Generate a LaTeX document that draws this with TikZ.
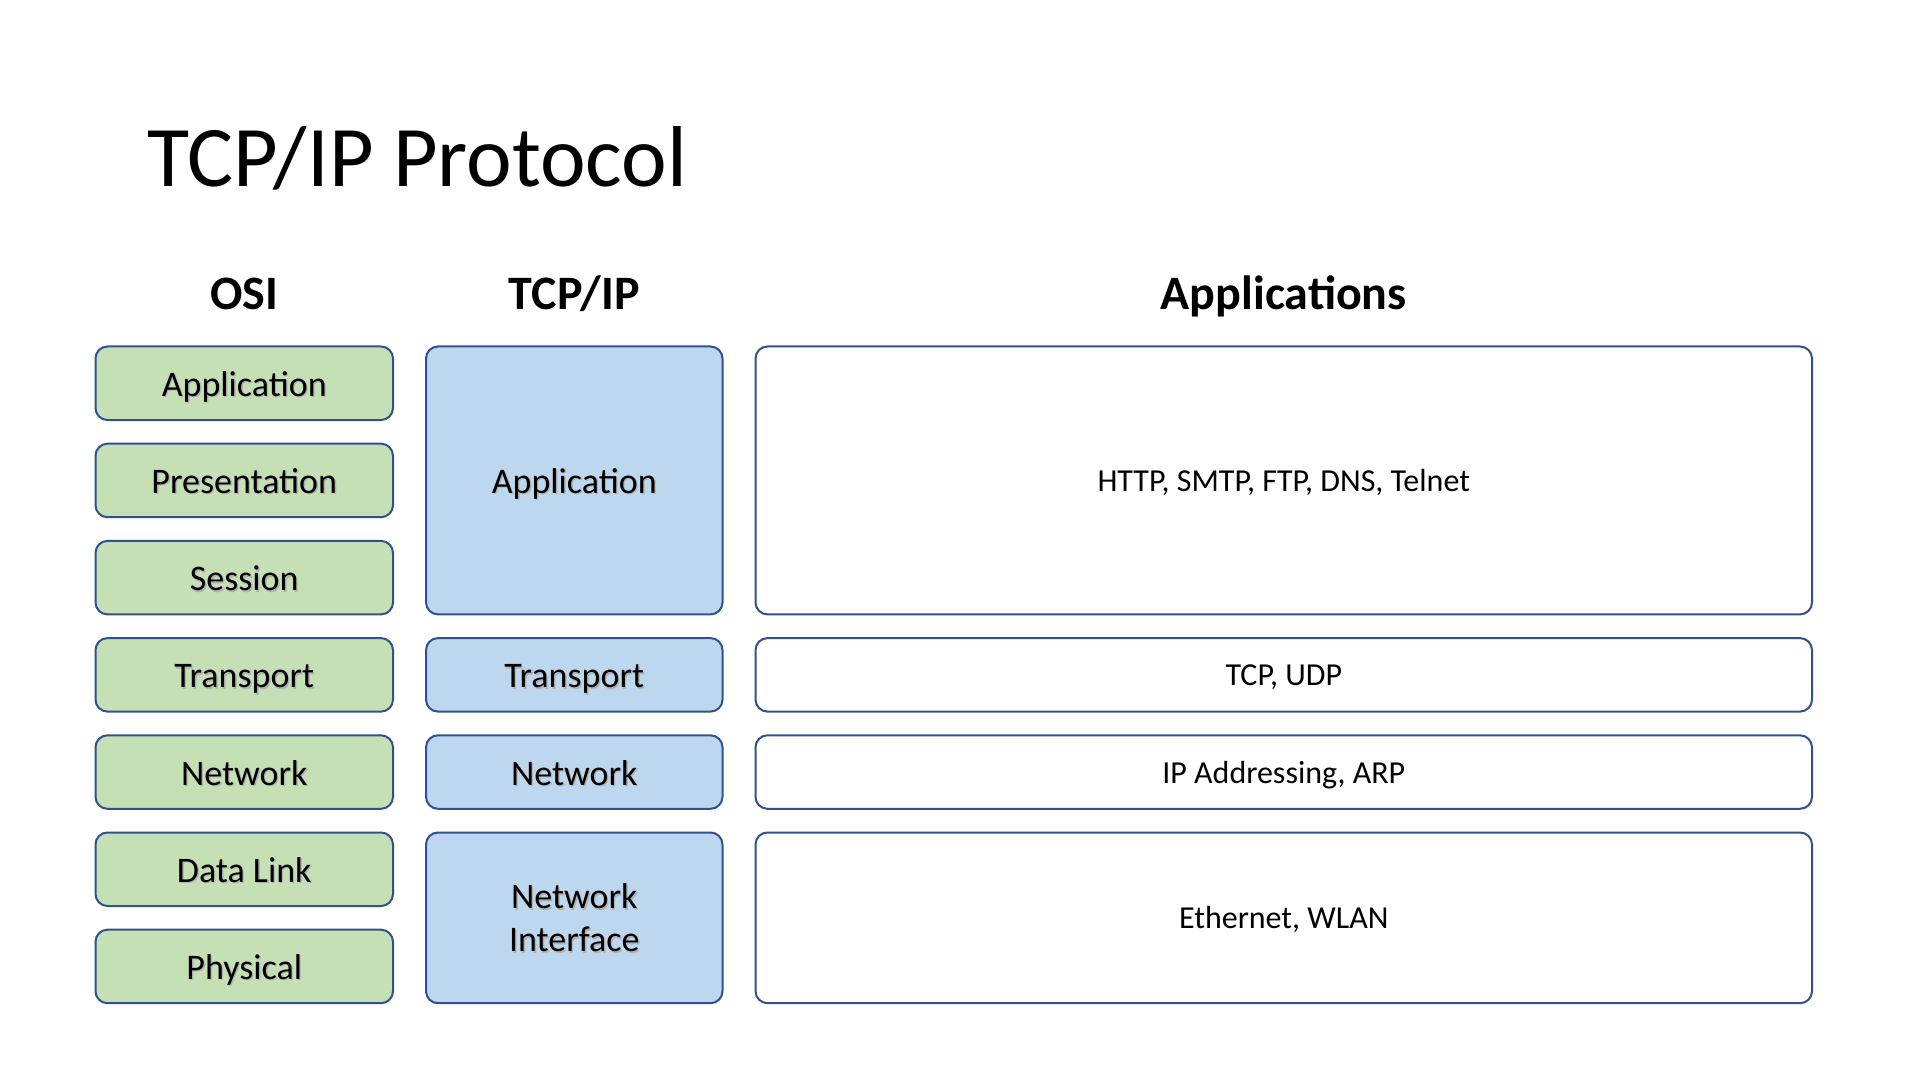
\documentclass[tikz,border=0pt]{standalone}
\usepackage{fontspec}
\setmainfont{Carlito}
\definecolor{osigreen}{HTML}{C5E0B4}
\definecolor{tcpblue}{HTML}{BDD7EE}
\definecolor{edgeblue}{HTML}{2F528F}

% label with a soft drop shadow
\newcommand\shtext[1]{\leavevmode\rlap{\hspace{0.7pt}\raisebox{-0.7pt}{\textcolor{black!30}{#1}}}#1}

\tikzset{
  layer/.style={draw=edgeblue, line width=1pt, rounded corners=6pt, inner sep=0pt, align=center},
  osibox/.style={layer, text height=13pt, text depth=0pt, fill=osigreen,
                 minimum width=148.75pt, minimum height=36.75pt,
                 font=\fontsize{18}{21.6}\selectfont},
  tcpbox/.style={layer, fill=tcpblue, minimum width=148.25pt,
                 font=\fontsize{18}{21.6}\selectfont},
  appbox/.style={layer, text height=11pt, text depth=0pt, fill=white, minimum width=528.25pt,
                 font=\fontsize{16}{19}\selectfont},
  colhead/.style={anchor=base, inner sep=0pt, font=\bfseries\fontsize{24}{28}\selectfont},
}

\begin{document}
\begin{tikzpicture}[x=0.5pt, y=-0.5pt]
  \fill[white] (0,0) rectangle (1920,1080);
  \useasboundingbox (0,0) rectangle (1920,1080);

  \node[anchor=base west, inner sep=0pt, font=\fontsize{43.2}{50}\selectfont] (title) at (147,187) {TCP/IP Protocol};

  \node[colhead] (hosi) at (244.25,310) {OSI};
  \node[colhead] (htcp) at (574.25,310) {TCP/IP};
  \node[colhead] (happ) at (1283.75,310) {Applications};

  % OSI layers
  \node[osibox] (osi1) at (244.25,383.25) {\shtext{Application}};
  \node[osibox] (osi2) at (244.25,480.45) {\shtext{Presentation}};
  \node[osibox] (osi3) at (244.25,577.65) {\shtext{Session}};
  \node[osibox] (osi4) at (244.25,674.85) {\shtext{Transport}};
  \node[osibox] (osi5) at (244.25,772.05) {\shtext{Network}};
  \node[osibox] (osi6) at (244.25,869.25) {\shtext{Data Link}};
  \node[osibox] (osi7) at (244.25,966.45) {\shtext{Physical}};

  % TCP/IP layers
  \node[tcpbox, text height=13pt, text depth=0pt, minimum height=133.95pt] (tcp1) at (574.25,480.45) {\shtext{Application}};
  \node[tcpbox, text height=13pt, text depth=0pt, minimum height=36.75pt] (tcp2) at (574.25,674.85) {\shtext{Transport}};
  \node[tcpbox, text height=13pt, text depth=0pt, minimum height=36.75pt] (tcp3) at (574.25,772.05) {\shtext{Network}};
  \node[tcpbox, minimum height=85.35pt, text depth=-1.8pt] (tcp4) at (574.25,917.85) {\shtext{Network}\\\shtext{Interface}};

  % protocols per layer
  \node[appbox, minimum height=133.95pt] (app1) at (1283.75,480.45) {HTTP, SMTP, FTP, DNS, Telnet};
  \node[appbox, minimum height=36.75pt] (app2) at (1283.75,674.85) {TCP, UDP};
  \node[appbox, minimum height=36.75pt] (app3) at (1283.75,772.05) {IP Addressing, ARP};
  \node[appbox, minimum height=85.35pt] (app4) at (1283.75,917.85) {Ethernet, WLAN};
\end{tikzpicture}
\end{document}
